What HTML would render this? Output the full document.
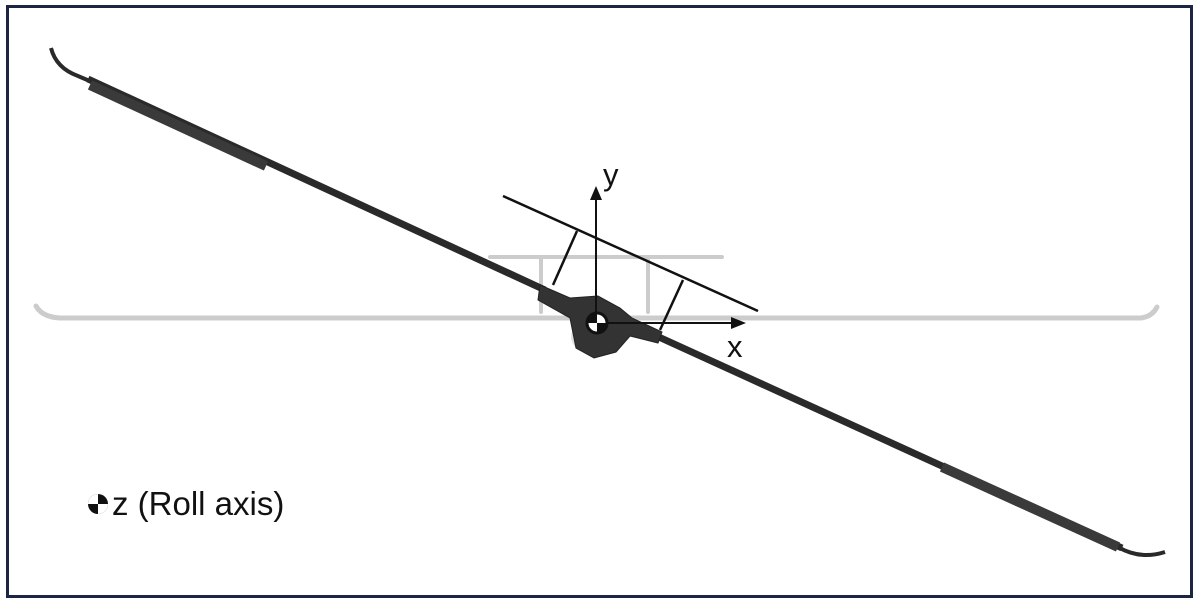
<!DOCTYPE html>
<html><head><meta charset="utf-8"><style>
html,body{margin:0;padding:0;background:#fff;}
svg{display:block;}
</style></head><body>
<svg width="1200" height="606" viewBox="0 0 1200 606" xmlns="http://www.w3.org/2000/svg">
<rect x="0" y="0" width="1200" height="606" fill="#fff"/>
<rect x="7.5" y="6.5" width="1184" height="590" fill="none" stroke="#1c2644" stroke-width="3"/>
<!-- ghost level aircraft -->
<g stroke="#cccccc" fill="none" stroke-linecap="round">
<path d="M36 306 Q42 317 60 318 L1140 318 Q1152 317 1157 307" stroke-width="5"/>
<line x1="490" y1="257" x2="722" y2="257" stroke-width="4"/>
<line x1="541" y1="257" x2="541" y2="312" stroke-width="4"/>
<line x1="648" y1="257" x2="648" y2="312" stroke-width="4"/>
<ellipse cx="597" cy="337" rx="26" ry="18" fill="#e0e0e0" stroke="none"/>
</g>
<!-- rolled wing -->
<g stroke="#2a2a2a" fill="none" stroke-linecap="butt">
<path d="M51 48 Q56 68 78 76 L92 82" stroke-width="4"/>
<line x1="88" y1="79" x2="545" y2="290" stroke-width="7"/>
<line x1="650" y1="333" x2="1122" y2="548" stroke-width="7"/>
<path d="M1118 547 Q1140 560 1165 552" stroke-width="4"/>
<line x1="90" y1="85" x2="266" y2="166" stroke="#3a3a3a" stroke-width="10"/>
<line x1="942" y1="467" x2="1118" y2="547" stroke="#3a3a3a" stroke-width="10"/>
</g>
<!-- hub -->
<path d="M540 285 L570 298 L598 296 L620 308 L632 318 L662 332 L658 343 L630 336 L616 352 L594 358 L576 348 L570 318 L538 300 Z" fill="#333" stroke="#222" stroke-width="1"/>
<!-- tilted line & struts -->
<g stroke="#111" stroke-width="2.5" fill="none">
<line x1="503" y1="196" x2="758" y2="311"/>
<line x1="577" y1="231" x2="553" y2="285"/>
<line x1="683" y1="280" x2="660" y2="330"/>
</g>
<!-- axes -->
<g stroke="#111" stroke-width="2">
<line x1="596" y1="323" x2="596" y2="198"/>
<line x1="596" y1="323" x2="732" y2="323"/>
</g>
<polygon points="596,186 590,200 602,200" fill="#111"/>
<polygon points="746,323 731,317 731,329" fill="#111"/>
<!-- CG symbol -->
<circle cx="597" cy="323" r="10" fill="#fff" stroke="#111" stroke-width="3"/>
<path d="M597 323 L597 313 A10 10 0 0 0 587 323 Z" fill="#111"/>
<path d="M597 323 L607 323 A10 10 0 0 1 597 333 Z" fill="#111"/>
<text x="603" y="185" font-family="Liberation Sans, sans-serif" font-size="31" fill="#111">y</text>
<text x="727" y="357" font-family="Liberation Sans, sans-serif" font-size="31" fill="#111">x</text>
<!-- legend -->
<circle cx="98" cy="504" r="10" fill="#111"/>
<path d="M98 504 L108 504 A10 10 0 0 1 98 514 Z" fill="#fff"/>
<path d="M98 504 L98 494 A10 10 0 0 0 88 504 Z" fill="#fff"/>
<text x="112" y="515" font-family="Liberation Sans, sans-serif" font-size="33" fill="#111">z (Roll axis)</text>
</svg>
</body></html>
